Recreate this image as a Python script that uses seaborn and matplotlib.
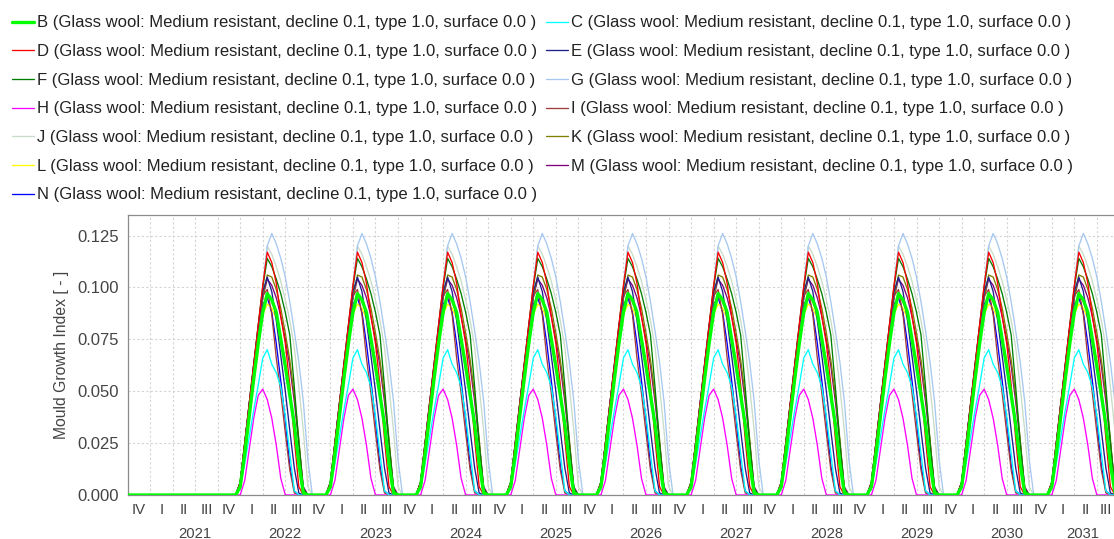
import matplotlib
matplotlib.use("Agg")
import matplotlib.pyplot as plt
import matplotlib.ticker as mticker
from matplotlib.lines import Line2D
import seaborn as sns
import numpy as np
import pandas as pd

season_t = [-0.05, 0.00, 0.05, 0.10, 0.15, 0.20, 0.25, 0.30, 0.35, 0.40,
            0.45, 0.50, 0.55, 0.60, 0.65, 0.70, 0.75, 0.80, 0.85]
season_years = [2022, 2023, 2024, 2025, 2026, 2027, 2028, 2029, 2030, 2031]
quiet_x = [2020.75, 2021.95]   # 2020-2021, index stays at zero
quiet_y = [0.0, 0.0]

mgi_B = [0, 0.004, 0.020, 0.038, 0.056, 0.073, 0.088, 0.097, 0.094, 0.088, 0.075, 0.062, 0.048, 0.034, 0.015, 0.001, 0, 0, 0]
mgi_C = [0, 0.003, 0.015, 0.028, 0.041, 0.053, 0.066, 0.070, 0.063, 0.059, 0.052, 0.038, 0.020, 0.002, 0, 0, 0, 0, 0]
mgi_D = [0, 0.006, 0.025, 0.044, 0.063, 0.082, 0.101, 0.117, 0.112, 0.102, 0.086, 0.073, 0.053, 0.027, 0.004, 0, 0, 0, 0]
mgi_E = [0, 0.006, 0.025, 0.044, 0.063, 0.081, 0.098, 0.105, 0.098, 0.084, 0.067, 0.050, 0.031, 0.013, 0.001, 0, 0, 0, 0]
mgi_F = [0, 0.006, 0.025, 0.044, 0.063, 0.082, 0.100, 0.114, 0.110, 0.104, 0.097, 0.088, 0.077, 0.052, 0.025, 0.003, 0, 0, 0]
mgi_G = [0, 0.005, 0.024, 0.043, 0.062, 0.081, 0.100, 0.120, 0.126, 0.121, 0.114, 0.105, 0.093, 0.079, 0.064, 0.045, 0.017, 0, 0]
mgi_H = [0, 0.000, 0.007, 0.022, 0.037, 0.048, 0.051, 0.046, 0.037, 0.024, 0.008, 0, 0, 0, 0, 0, 0, 0, 0]
mgi_I = [0, 0.006, 0.025, 0.044, 0.062, 0.080, 0.096, 0.099, 0.087, 0.066, 0.049, 0.030, 0.012, 0.001, 0, 0, 0, 0, 0]
mgi_J = [0, 0.005, 0.024, 0.043, 0.062, 0.081, 0.100, 0.120, 0.116, 0.110, 0.103, 0.094, 0.084, 0.071, 0.052, 0.031, 0.004, 0, 0]
mgi_K = [0, 0.005, 0.023, 0.042, 0.060, 0.078, 0.095, 0.106, 0.105, 0.099, 0.090, 0.078, 0.065, 0.048, 0.027, 0.002, 0, 0, 0]
mgi_L = [0, 0.005, 0.022, 0.040, 0.057, 0.073, 0.087, 0.092, 0.090, 0.085, 0.076, 0.064, 0.050, 0.033, 0.015, 0.001, 0, 0, 0]
mgi_M = [0, 0.006, 0.024, 0.043, 0.061, 0.079, 0.095, 0.104, 0.101, 0.095, 0.086, 0.075, 0.062, 0.045, 0.025, 0.004, 0, 0, 0]
mgi_N = [0, 0.006, 0.024, 0.043, 0.061, 0.078, 0.092, 0.095, 0.088, 0.073, 0.055, 0.036, 0.014, 0.002, 0, 0, 0, 0, 0]

series_names = ["B", "C", "D", "E", "F", "G", "H", "I", "J", "K", "L", "M", "N"]
series_values = [mgi_B, mgi_C, mgi_D, mgi_E, mgi_F, mgi_G, mgi_H, mgi_I, mgi_J,
                 mgi_K, mgi_L, mgi_M, mgi_N]
label_tail = " (Glass wool: Medium resistant, decline 0.1, type 1.0, surface 0.0 )"

colors = {"B": "#00ff00", "C": "#00ffff", "D": "#ff0000", "E": "#1e1e8c",
          "F": "#008000", "G": "#a6c8f0", "H": "#ff00ff", "I": "#a03c3c",
          "J": "#c8dcc8", "K": "#808000", "L": "#ffff00", "M": "#800080",
          "N": "#0000ff"}

frames = []
for name, vals in zip(series_names, series_values):
    xs = list(quiet_x)
    ys = list(quiet_y)
    for yr in season_years:
        xs += [yr + t for t in season_t]
        ys += vals
    frames.append(pd.DataFrame({"series": name, "time": xs, "mgi": ys}))
df = pd.concat(frames, ignore_index=True)

sns.set_style("white")
plt.rcParams["font.family"] = ["Liberation Sans", "DejaVu Sans"]

fig = plt.figure(figsize=(11.14, 5.39), dpi=100)
ax = fig.add_axes([127.5 / 1114, 1 - 495 / 539, 1 - 127.5 / 1114, 280 / 539])

xmin, xmax = 2020.75, 2031.69
ax.set_xlim(xmin, xmax)
ax.set_ylim(0, 0.1349)

handles = {}
for i, name in enumerate(series_names):
    lw = 2.4 if name == "B" else 0.95
    sub = df[df["series"] == name]
    sns.lineplot(data=sub, x="time", y="mgi", ax=ax, color=colors[name],
                 linewidth=lw, estimator=None, sort=False, zorder=20 - i)
    handles[name] = Line2D([], [], color=colors[name], lw=lw)

# grid and axes styling
ax.yaxis.set_major_locator(mticker.FixedLocator([0, 0.025, 0.05, 0.075, 0.1, 0.125]))
ax.yaxis.set_major_formatter(mticker.FormatStrFormatter("%.3f"))
ax.xaxis.set_major_locator(mticker.FixedLocator(np.arange(2021, 2032)))
ax.xaxis.set_minor_locator(mticker.FixedLocator(np.arange(2020.75, 2031.6, 0.25)))
ax.grid(True, which="both", color="#d4d4d4", linestyle=(0, (2, 2)), linewidth=0.8)
ax.set_axisbelow(True)
ax.tick_params(axis="x", which="major", length=31.7, width=0.8, color="#b4b4b4",
               direction="out", labelbottom=False)
ax.tick_params(axis="x", which="minor", length=17.5, width=0.8, color="#b4b4b4",
               direction="out", labelbottom=False)
ax.tick_params(axis="y", length=0, pad=6, labelsize=12, labelcolor="#444444")
for side in ["top", "left", "bottom"]:
    ax.spines[side].set_color("#8c8c8c")
    ax.spines[side].set_linewidth(0.9)
ax.spines["right"].set_visible(False)
ax.set_xlabel("")
ax.set_ylabel("Mould Growth Index [ - ]", fontsize=11.3, color="#444444")
ax.yaxis.set_label_coords(-0.0593, 0.5)

# quarter and year labels under the axis
roman = ["I", "II", "III", "IV"]
xt = ax.get_xaxis_transform()
for q0 in np.arange(2020.75, 2031.6, 0.25):
    lo, hi = max(q0, xmin), min(q0 + 0.25, xmax)
    qi = int(round((q0 % 1) / 0.25)) % 4
    ax.text((lo + hi) / 2, -15.5 / 280, roman[qi], transform=xt, ha="center",
            va="center", fontsize=10.8, color="#444444", clip_on=False)
for yr in range(2021, 2032):
    lo, hi = max(yr, xmin), min(yr + 1, xmax)
    ax.text((lo + hi) / 2, -38.5 / 280, str(yr), transform=xt, ha="center",
            va="center", fontsize=10.6, color="#444444", clip_on=False)

# legend in two columns (row-major order as in the original)
left_col = ["B", "D", "F", "H", "J", "L", "N"]
right_col = ["C", "E", "G", "I", "K", "M"]
leg_kw = dict(loc="upper left", frameon=False, fontsize=12, borderpad=0,
              borderaxespad=0, handlelength=1.3, handletextpad=0.18,
              labelspacing=0.82, labelcolor="#222222")
fig.legend([handles[n] for n in left_col], [n + label_tail for n in left_col],
           bbox_to_anchor=(12 / 1114, 1 - 15.5 / 539), **leg_kw)
fig.legend([handles[n] for n in right_col], [n + label_tail for n in right_col],
           bbox_to_anchor=(546 / 1114, 1 - 15.5 / 539), **leg_kw)

fig.savefig("out.png", dpi=100, facecolor="white")
